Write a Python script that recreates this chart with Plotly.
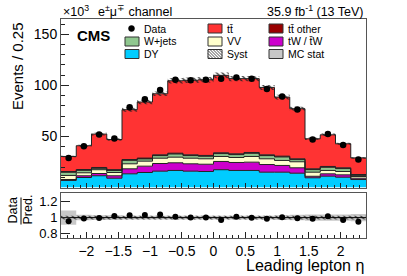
import numpy as np
import plotly.graph_objects as go

# ---------------- data ----------------
bin_edges = [-2.4, -2.16, -1.92, -1.68, -1.44, -1.2, -0.96, -0.72, -0.48, -0.24, 0.0,
             0.24, 0.48, 0.72, 0.96, 1.2, 1.44, 1.68, 1.92, 2.16, 2.4]
dy = [6.9, 9.8, 11.5, 9.1, 13.4, 14.7, 16.0, 16.7, 16.0, 15.7, 17.4, 16.7, 16.7, 15.0, 15.0, 14.0, 9.5, 11.1, 10.1, 7.8]
tw = [0.9, 1.7, 2.2, 2.4, 4.9, 6.2, 7.5, 7.5, 7.2, 7.1, 8.1, 7.8, 8.1, 7.5, 6.6, 5.3, 1.5, 2.3, 2.3, 1.3]
vv = [4.0, 2.9, 3.7, 3.2, 4.9, 4.9, 5.2, 5.5, 5.5, 5.3, 4.9, 4.9, 5.6, 5.6, 4.9, 5.9, 4.0, 3.3, 3.3, 1.7]
wjets = [3.1, 2.4, 1.4, 2.0, 3.4, 2.2, 2.5, 3.1, 2.5, 2.5, 2.8, 2.8, 3.1, 3.1, 3.4, 2.1, 2.5, 3.1, 2.8, 1.1]
ttother = [0.8, 0.8, 0.8, 0.8, 0.8, 0.8, 0.8, 0.8, 0.8, 0.8, 0.8, 0.8, 0.8, 0.8, 0.8, 0.8, 0.8, 0.8, 0.8, 0.8]
ttbar = [14.7, 23.3, 32.7, 29.5, 48.8, 54.9, 59.8, 70.9, 73.0, 74.1, 75.8, 73.6, 72.3, 66.0, 57.8, 49.0, 29.4, 31.0, 23.5, 16.3]
data = [29.0, 40.5, 52.0, 48.0, 78.5, 86.5, 95.5, 105.5, 105.0, 105.6, 106.6, 107.6, 106.5, 96.5, 89.0, 76.5, 47.0, 52.5, 41.5, 27.5]
syst_rel = [0.025] * 20
mcstat_rel = [0.09, 0.035, 0.03, 0.03, 0.025, 0.025, 0.025, 0.025, 0.025, 0.025,
              0.025, 0.025, 0.025, 0.025, 0.03, 0.035, 0.04, 0.04, 0.04, 0.045]
y_ticks_main = [0, 50, 100, 150]
ratio_ticks = [0.8, 1.0, 1.2]

# ---------------- styles ----------------
FONT = "Liberation Sans, Arial, Helvetica, sans-serif"
layers = [  # name, values, color (bottom to top)
    ("DY", dy, "#00ccff"),
    ("tW", tw, "#cc00cc"),
    ("VV", vv, "#ffffcc"),
    ("W+jets", wjets, "#8fc78f"),
    ("tt other", ttother, "#990000"),
    ("tt", ttbar, "#ff3333"),
]
W, H = 407, 276
L, R, T, B = 61, 366, 19, 238
MAIN_BOT = 187.5
RAT_TOP = 193.3

def px(x):
    return (x - L) / (R - L)

def py(y):
    return (B - y) / (B - T)

edges = np.array(bin_edges)
centers = 0.5 * (edges[:-1] + edges[1:])

def step(v):
    v = list(v)
    return v + [v[-1]]

fig = go.Figure()

# stacked fills
cum = np.zeros(20)
tops = []
for i, (name, vals, col) in enumerate(layers):
    cum = cum + np.array(vals)
    tops.append(cum.copy())
    fig.add_trace(go.Scatter(
        x=edges, y=step(cum), mode="lines", line=dict(width=0, shape="hv"),
        fill="tozeroy" if i == 0 else "tonexty", fillcolor=col,
        hoverinfo="skip", xaxis="x", yaxis="y"))
total = tops[-1]

# outlines
for t in tops:
    fig.add_trace(go.Scatter(x=edges, y=step(t), mode="lines",
                             line=dict(width=1, shape="hv", color="#222"),
                             hoverinfo="skip", xaxis="x", yaxis="y"))

# syst hatch band in main
srel = np.array(syst_rel)
fig.add_trace(go.Scatter(x=edges, y=step(total * (1 - srel)), mode="lines",
                         line=dict(width=0, shape="hv"), hoverinfo="skip", xaxis="x", yaxis="y"))
fig.add_trace(go.Scatter(x=edges, y=step(total * (1 + srel)), mode="lines",
                         line=dict(width=0, shape="hv"), fill="tonexty",
                         fillcolor="rgba(0,0,0,0)",
                         fillpattern=dict(shape="\\", fgcolor="#222", bgcolor="rgba(0,0,0,0)",
                                          size=4, solidity=0.3),
                         hoverinfo="skip", xaxis="x", yaxis="y"))

# data points
fig.add_trace(go.Scatter(x=centers, y=data, mode="markers",
                         marker=dict(color="black", size=6.5),
                         hoverinfo="skip", xaxis="x", yaxis="y"))

# ---------------- ratio ----------------
mrel = np.array(mcstat_rel)
fig.add_trace(go.Scatter(x=edges, y=step(1 - mrel), mode="lines",
                         line=dict(width=0, shape="hv"), hoverinfo="skip", xaxis="x2", yaxis="y2"))
fig.add_trace(go.Scatter(x=edges, y=step(1 + mrel), mode="lines",
                         line=dict(width=0, shape="hv"), fill="tonexty", fillcolor="#c8c8c8",
                         hoverinfo="skip", xaxis="x2", yaxis="y2"))
fig.add_trace(go.Scatter(x=edges, y=step(1 - srel), mode="lines",
                         line=dict(width=0, shape="hv"), hoverinfo="skip", xaxis="x2", yaxis="y2"))
fig.add_trace(go.Scatter(x=edges, y=step(1 + srel), mode="lines",
                         line=dict(width=0, shape="hv"), fill="tonexty",
                         fillcolor="rgba(0,0,0,0)",
                         fillpattern=dict(shape="\\", fgcolor="#333", bgcolor="rgba(0,0,0,0)",
                                          size=4, solidity=0.3),
                         hoverinfo="skip", xaxis="x2", yaxis="y2"))
fig.add_trace(go.Scatter(x=[edges[0], edges[-1]], y=[1, 1], mode="lines",
                         line=dict(width=1, color="black"), hoverinfo="skip", xaxis="x2", yaxis="y2"))
fig.add_trace(go.Scatter(x=centers, y=np.array(data) / total, mode="markers",
                         marker=dict(color="black", size=6),
                         hoverinfo="skip", xaxis="x2", yaxis="y2"))

axis_common = dict(showline=True, linecolor="#555", linewidth=1, mirror=True,
                   showgrid=False, zeroline=False, ticks="inside", tickcolor="#222",
                   automargin=False)
tf14 = dict(family=FONT, size=14, color="black")

fig.update_layout(
    template="none",
    width=W, height=H, margin=dict(l=L, r=W - R, t=T, b=H - B, pad=0, autoexpand=False),
    plot_bgcolor="white", paper_bgcolor="white", showlegend=False,
    font=dict(family=FONT, color="black"),
    xaxis=dict(domain=[0, 1], anchor="y", range=[-2.4, 2.4], showticklabels=False,
               tick0=0, dtick=0.5, ticklen=5,
               minor=dict(dtick=0.1, ticklen=3, ticks="inside", tickcolor="#222"),
               **axis_common),
    yaxis=dict(domain=[(B - MAIN_BOT) / (B - T), 1], anchor="x", range=[0, 165],
               tickmode="array", tickvals=y_ticks_main, ticktext=[" ", "50", "100", "150"],
               ticklen=8, tickfont=tf14,
               minor=dict(dtick=10, tick0=0, ticklen=4, ticks="inside", tickcolor="#222"),
               **axis_common),
    xaxis2=dict(domain=[0, 1], anchor="y2", range=[-2.4, 2.4],
                tick0=0, dtick=0.5, ticklen=6, tickfont=tf14,
                minor=dict(dtick=0.1, ticklen=3, ticks="inside", tickcolor="#222"),
                **axis_common),
    yaxis2=dict(domain=[0, (B - RAT_TOP) / (B - T)], anchor="x2", range=[0.74, 1.31],
                tickmode="array", tickvals=ratio_ticks, ticktext=["0.8", "1", "1.2"],
                ticklen=9, tickfont=dict(family=FONT, size=13, color="black"),
                **axis_common),
)

ann = []
def text(x, y, s, size, xanchor="left", yanchor="middle", angle=0):
    ann.append(dict(x=px(x), y=py(y), xref="paper", yref="paper", text=s, showarrow=False,
                    xanchor=xanchor, yanchor=yanchor, textangle=angle,
                    font=dict(family=FONT, size=size, color="black")))

TB = "t\u0304"
text(61, 11, "×10<sup>3</sup>", 12.5)
text(96, 11, "e<sup>±</sup>μ<sup>∓</sup> channel", 12.5)
text(366, 11, "35.9 fb<sup>-1</sup> (13 TeV)", 12.5, xanchor="right")
text(75, 35, "<b>CMS</b>", 15)
text(17, 20, "Events / 0.25", 15, xanchor="center", yanchor="top", angle=-90)
text(366, 265, "Leading lepton η", 16, xanchor="right")
text(12.5, 211, "Data", 12.5, xanchor="center", angle=-90)
text(27.5, 210, "Pred.", 12.5, xanchor="center", angle=-90)

shapes = [dict(type="line", xref="paper", yref="paper", x0=px(21), x1=px(21),
               y0=py(197.5), y1=py(224.5), line=dict(color="black", width=1))]

# legend (manual, ROOT-style 3 columns)
rows = [28.5, 41.5, 54.0]
cols = [125, 208, 269]
legend_entries = [
    (0, 0, "Data", "marker", None),
    (1, 0, "t" + TB, "box", "#ff3333"),
    (2, 0, "t" + TB + " other", "box", "#990000"),
    (0, 1, "W+jets", "box", "#8fc78f"),
    (1, 1, "VV", "box", "#ffffcc"),
    (2, 1, "tW / " + TB + "W", "box", "#cc00cc"),
    (0, 2, "DY", "box", "#00ccff"),
    (1, 2, "Syst", "hatch", None),
    (2, 2, "MC stat", "box", "#c8c8c8"),
]
for c, r, label, kind, col in legend_entries:
    x0 = cols[c]
    yc = rows[r]
    if kind == "marker":
        xc = x0 + 6.5
        shapes.append(dict(type="circle", xref="paper", yref="paper",
                           x0=px(xc - 3), x1=px(xc + 3), y0=py(yc + 3), y1=py(yc - 3),
                           fillcolor="black", line=dict(color="black", width=0.5)))
    else:
        bx0, bx1, by0, by1 = x0, x0 + 14, yc - 4.5, yc + 4.5
        shapes.append(dict(type="rect", xref="paper", yref="paper",
                           x0=px(bx0), x1=px(bx1), y0=py(by1), y1=py(by0),
                           fillcolor=col if col else "white",
                           line=dict(color="#333", width=1)))
        if kind == "hatch":
            for k in range(-10, 16, 3):
                cx = bx0 + k  # line: x = (y - by0) + cx
                ya = max(by0, by0 + (bx0 - cx))
                yb = min(by1, by0 + (bx1 - cx))
                if yb > ya:
                    shapes.append(dict(type="line", xref="paper", yref="paper",
                                       x0=px(cx + (ya - by0)), y0=py(ya),
                                       x1=px(cx + (yb - by0)), y1=py(yb),
                                       line=dict(color="#222", width=0.8)))
    text(x0 + 17, yc, label, 10.5)

fig.update_layout(annotations=ann, shapes=shapes)
fig.write_html("out.html", config={"displayModeBar": False, "staticPlot": True},
               post_script="document.body.style.margin='0';document.body.style.overflow='hidden';")
